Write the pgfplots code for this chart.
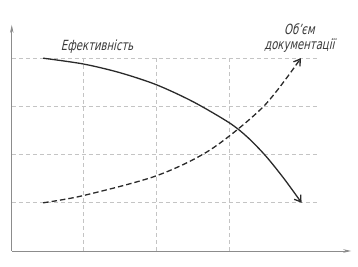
\documentclass[border=0pt]{standalone}
\usepackage{pgfplots}
\pgfplotsset{compat=1.18}
\usetikzlibrary{arrows.meta}
\usepackage{fontspec}
\newfontfamily\gost{DejaVu Sans}[FakeSlant=0.22,FakeStretch=0.72]
\definecolor{gridc}{HTML}{C4C4C4}
\definecolor{axc}{HTML}{8C8C8C}
\definecolor{curvec}{HTML}{2A2A2A}
\definecolor{txtc}{HTML}{3A3A3A}
\begin{document}
\begin{tikzpicture}
\useasboundingbox (-10.3pt,-16pt) rectangle (347.7pt,251pt);
\begin{axis}[anchor=origin, at={(0pt,0pt)}, x=73pt, y=48.2pt,
  xmin=0, xmax=4.7, ymin=0, ymax=4.7,
  axis lines=none, xtick=\empty, ytick=\empty, clip=false]
% grid
\draw[gridc, line width=0.7pt, dash pattern=on 4pt off 3pt] (axis cs:0.02,1) -- (axis cs:4.22,1);
\draw[gridc, line width=0.7pt, dash pattern=on 4pt off 3pt] (axis cs:0.02,2) -- (axis cs:4.22,2);
\draw[gridc, line width=0.7pt, dash pattern=on 4pt off 3pt] (axis cs:0.02,3) -- (axis cs:4.22,3);
\draw[gridc, line width=0.7pt, dash pattern=on 4pt off 3pt] (axis cs:0.02,4) -- (axis cs:4.22,4);
\draw[gridc, line width=0.7pt, dash pattern=on 4pt off 3pt] (axis cs:1,0) -- (axis cs:1,4);
\draw[gridc, line width=0.7pt, dash pattern=on 4pt off 3pt] (axis cs:2,0) -- (axis cs:2,4);
\draw[gridc, line width=0.7pt, dash pattern=on 4pt off 3pt] (axis cs:3,0) -- (axis cs:3,4);
% axes
\draw[axc, line width=0.7pt, -{Stealth[length=8pt,width=3.5pt]}] (axis cs:0.02,0) -- (axis cs:4.67,0);
\draw[axc, line width=0.7pt, -{Stealth[length=8pt,width=3.5pt]}] (axis cs:0.02,0) -- (axis cs:0.02,4.69);
% efficiency
\addplot[curvec, line width=1.3pt, smooth, -{Straight Barb[length=6pt,width=8pt]}] coordinates {
(0.45,4.0) (1.0,3.88) (1.5,3.70) (2.0,3.45) (2.5,3.10) (3.0,2.66) (3.25,2.36) (3.5,1.97) (3.75,1.50) (3.99,1.0)};
% documentation volume
\addplot[curvec, line width=1.3pt, smooth, dash pattern=on 5.5pt off 3pt, -{Straight Barb[length=6pt,width=8pt]}] coordinates {
(0.45,1.0) (1.0,1.15) (2.0,1.56) (2.74,2.10) (3.47,3.0) (3.98,4.0)};
\node[txtc, inner sep=0pt, font=\gost\fontsize{14}{15}\selectfont] at (axis cs:1.19,4.25) {Ефективність};
\node[txtc, inner sep=0pt, align=center, font=\gost\fontsize{14}{14.5}\selectfont] at (axis cs:3.96,4.42) {Об’єм\\документації};
\end{axis}
\end{tikzpicture}
\end{document}
